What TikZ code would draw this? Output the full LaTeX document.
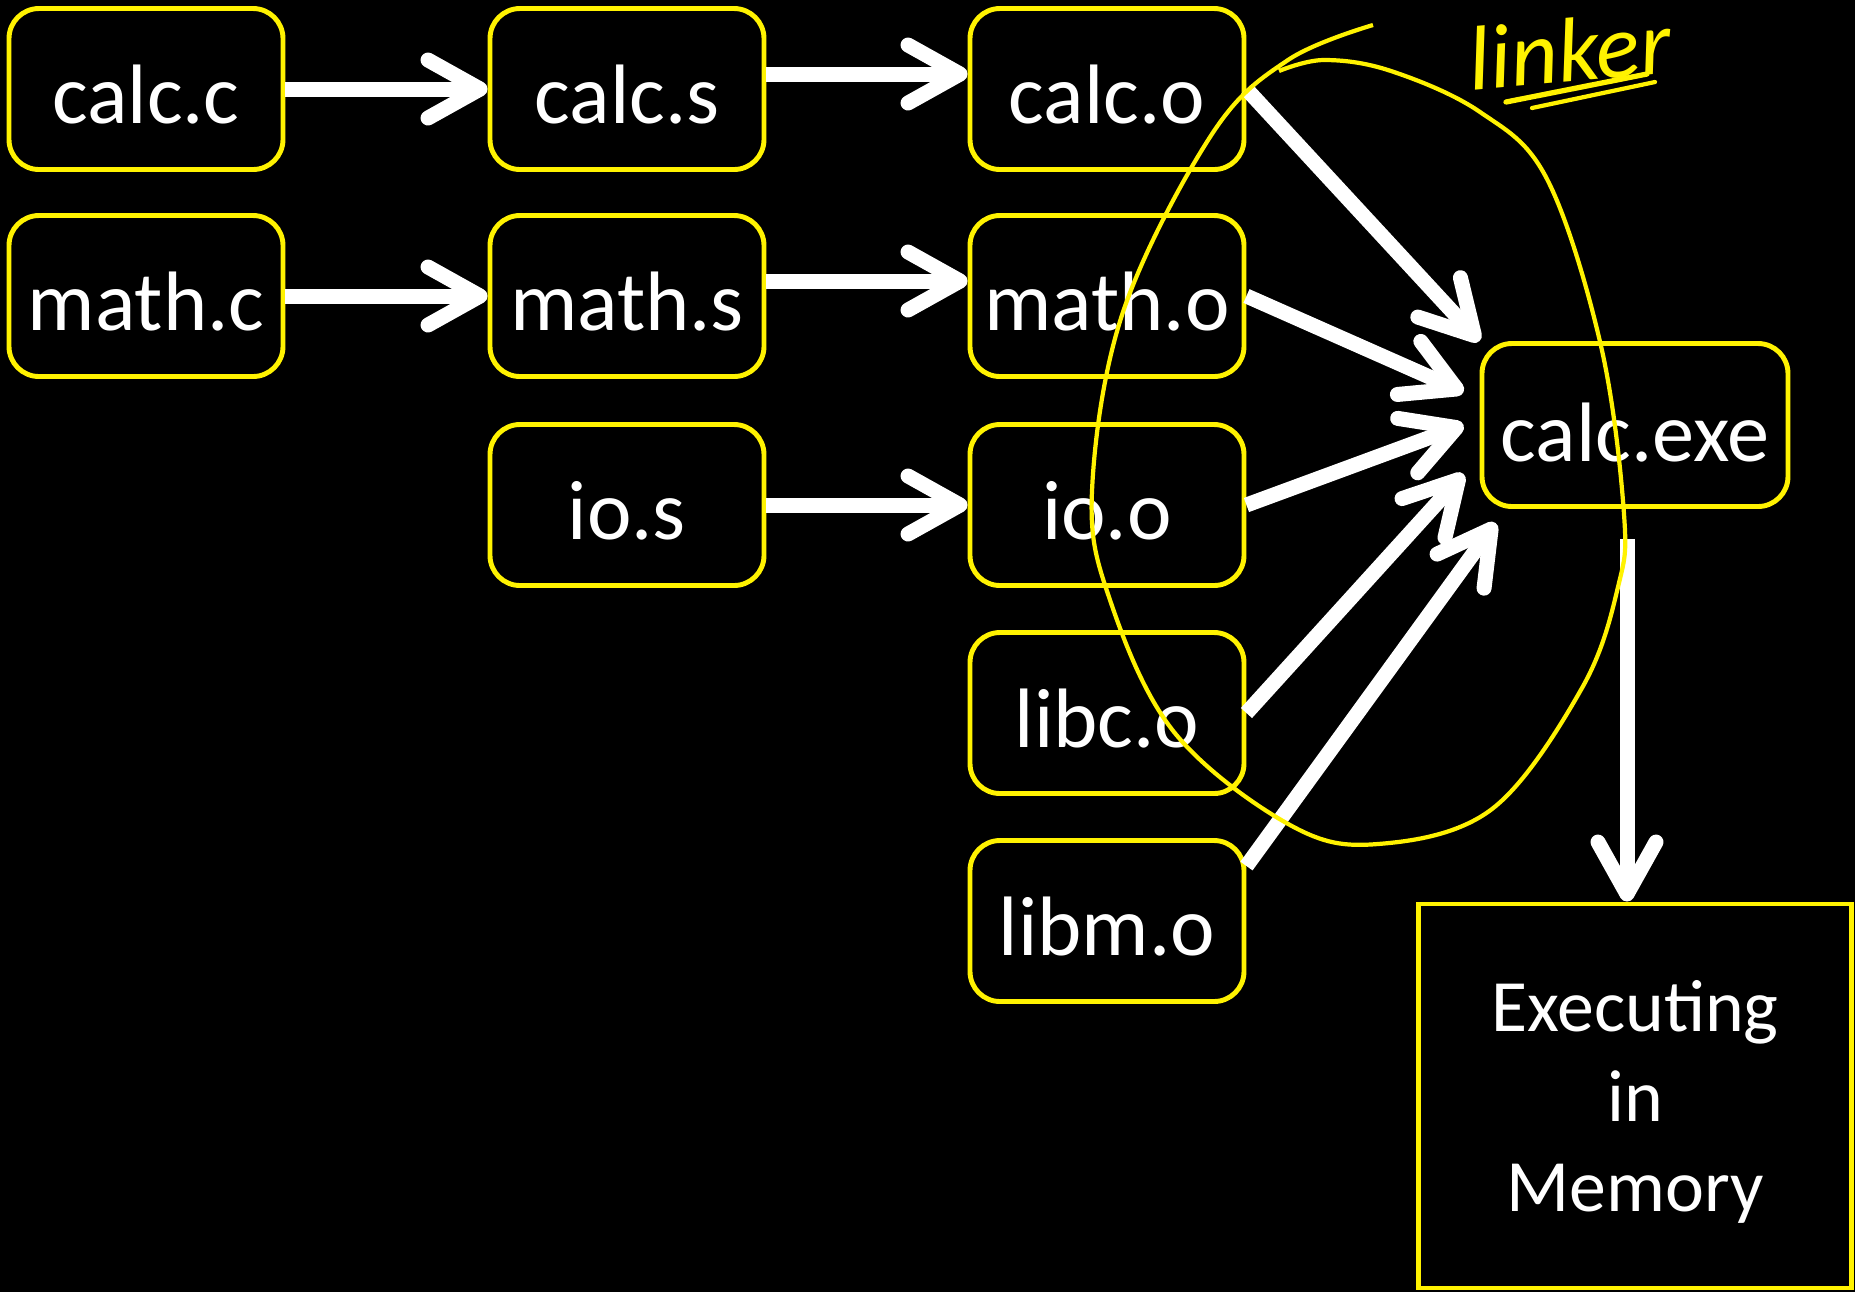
\documentclass[tikz,border=0pt]{standalone}
\usepackage{fontspec}
\setmainfont{Carlito}
\usepackage{tikz}
\usetikzlibrary{arrows.meta}

\begin{document}
\begin{tikzpicture}[
  box/.style={draw=yellow, line width=1.4pt, rounded corners=3mm, fill=black, text=white, align=center, text height=0.68cm, text depth=0cm, minimum width=2.74cm, minimum height=1.61cm, font=\fontsize{24}{29}\selectfont},
  arr/.style={-{Straight Barb[length=5.2mm, width=5.8mm, round]}, line width=1.5mm, white},
  ring/.style={yellow, line width=1.2pt},
]
\fill[black] (0,0) rectangle (18.55,-12.92);
\useasboundingbox (0,0) rectangle (18.55,-12.92);

\node[box] (calcc) at (1.46,-0.89) {calc.c};
\node[box] (mathc) at (1.46,-2.96) {math.c};
\node[box] (calcs) at (6.27,-0.89) {calc.s};
\node[box] (maths) at (6.27,-2.96) {math.s};
\node[box] (ios) at (6.27,-5.05) {io.s};
\node[box] (calco) at (11.07,-0.89) {calc.o};
\node[box] (matho) at (11.07,-2.96) {math.o};
\node[box] (ioo) at (11.07,-5.05) {io.o};
\node[box] (libco) at (11.07,-7.13) {libc.o};
\node[box] (libmo) at (11.07,-9.21) {libm.o};
\node[box, text height=0.72cm, minimum width=3.06cm, minimum height=1.63cm] (exe) at (16.35,-4.25) {calc.exe};
\node[draw=yellow, line width=1.4pt, fill=black, text=white, align=center, text depth=0cm, minimum width=4.33cm, minimum height=3.84cm, font=\fontsize{21}{25.5}\selectfont] (mem) at (16.35,-10.96) {Executing\\in\\Memory};

\draw[arr] (calcc.east) -- (calcs.west);
\draw[arr] (mathc.east) -- (maths.west);
\draw[arr] ([yshift=0.15cm]calcs.east) -- ([yshift=0.15cm]calco.west);
\draw[arr] ([yshift=0.15cm]maths.east) -- ([yshift=0.15cm]matho.west);
\draw[arr] (ios.east) -- (ioo.west);

\draw[arr] (calco.east) -- (exe.north west);
\draw[arr] (matho.east) -- ([shift={(-0.16,0.33)}]exe.west);
\draw[arr] (ioo.east) -- ([xshift=-0.16cm]exe.west);
\draw[arr] (libco.east) -- ([shift={(-0.16,-0.49)}]exe.west);
\draw[arr] ([yshift=0.55cm]libmo.east) -- ([shift={(0.16,-0.14)}]exe.south west);
\draw[arr] ([shift={(-0.08,-0.30)}]exe.south) -- ([xshift=-0.08cm]mem.north);

\draw[ring] plot[smooth, tension=0.6] coordinates {(13.73,-0.25) (12.88,-0.60) (12.12,-1.34) (11.23,-3.12) (10.92,-4.91) (11.10,-6.00) (11.74,-7.32) (12.90,-8.25) (13.78,-8.44) (14.92,-8.09) (15.82,-6.88) (16.18,-5.87) (16.24,-5.14) (16.01,-3.46) (15.47,-1.79) (14.80,-1.12) (13.91,-0.71) (13.24,-0.60) (12.79,-0.71)};

\node[text=yellow, font=\itshape\fontsize{26}{30}\selectfont, rotate=5] (linker) at (15.70,-0.50) {linker};
\draw[yellow, line width=1.5pt, line cap=round] (15.06,-1.02) -- (16.47,-0.74);
\draw[yellow, line width=1.2pt, line cap=round] (15.32,-1.08) -- (16.55,-0.82);
\end{tikzpicture}
\end{document}
